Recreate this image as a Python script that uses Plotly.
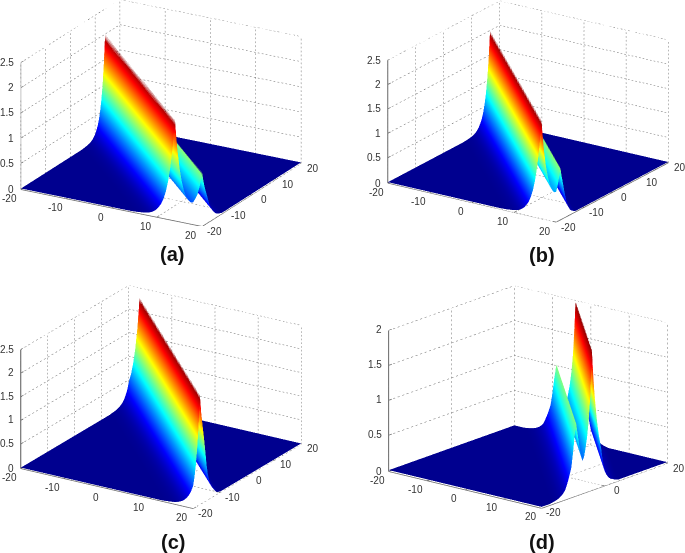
import math
import plotly.graph_objects as go

W, H = 685, 553
AXIS_X = [-20, -10, 0, 10, 20]
AXIS_Y = [-20, -10, 0, 10, 20]
AXIS_Y_D = [-20, 0, 20]
TICKS_Z = [0, 0.5, 1, 1.5, 2, 2.5]
TICKS_Z_D = [0, 0.5, 1, 1.5, 2]

# Ridge cross sections: height against x+y, in steps of 0.5
START_A = -15.0
PROFILE_A = [.004,.006,.01,.014,.02,.026,.035,.05,.07,.10,.14,.2,.27,.38,.53,.74,1.03,1.43,2.0,
             1.45,1.07,.8,.62,.5,.44,.41,.42,.5,.6,.78,1.05,.88,.74,.63,.53,.42,.32,.25,.19,.14,.1,.07,.05,.03,.02,.01,0]
START_B = -12.5
PROFILE_B = [.004,.006,.01,.014,.02,.026,.035,.05,.07,.1,.14,.2,.27,.38,.53,.74,1.03,1.43,2.0,
             1.48,1.12,.88,.72,.62,.58,.6,.7,.85,1.05,.85,.68,.5,.35,.22,.14,.08,.05,.03,.01,0]
START_C = -7.0
PROFILE_C = [0,.006,.01,.013,.018,.025,.035,.048,.066,.09,.125,.175,.24,.33,.46,.63,.87,1.2,1.66,2.3,
             1.9,1.62,1.35,1.05,.72,.5,.36,.26,.19,.14,.09,.05,.025,.012,0]
START_D = 2.5
PROFILE_D = [0,.004,.008,.012,.018,.025,.035,.05,.065,.09,.12,.18,.25,.33,.42,.62,.84,1.02,
             .85,.68,.53,.45,.5,.62,.78,1.0,1.35,2.0,
             1.55,1.25,1.0,.8,.65,.52,.33,.2,.14,.1,.07,.05,.04,.025,.015,.008,0]

JET = [[0, '#00008f'], [.125, '#0000ff'], [.375, '#00ffff'], [.625, '#ffff00'], [.875, '#ff0000'], [1, '#800000']]
GRID = '#6e6e6e'
INK = '#333333'
FLOOR = -0.02
DOTS = 46

PANELS = [
    dict(name='scene', label='(a)', lab=(172, 254), start=START_A, prof=PROFILE_A, yt=AXIS_Y, zt=TICKS_Z,
         box=(0, 322, 0, 226), az=29.5, sinel=.3606, ly=201., ax=1.036, az_ratio=.677, zcol='#c4c4c4'),
    dict(name='scene2', label='(b)', lab=(542, 255), start=START_B, prof=PROFILE_B, yt=AXIS_Y, zt=TICKS_Z,
         box=(371, 685, 0, 223), az=33.5, sinel=.35, ly=203., ax=.995, az_ratio=.647, zcol='#666666'),
    dict(name='scene3', label='(c)', lab=(173, 542), start=START_C, prof=PROFILE_C, yt=AXIS_Y, zt=TICKS_Z,
         box=(0, 322, 281.5, 511.5), az=32., sinel=.371, ly=204., ax=.997, az_ratio=.628, zcol='#555555'),
    dict(name='scene4', label='(d)', lab=(542, 542), start=START_D, prof=PROFILE_D, yt=AXIS_Y_D, zt=TICKS_Z_D,
         box=(371, 685, 281.5, 511.5), az=39.4, sinel=.293, ly=198., ax=1.0, az_ratio=.745, zcol='#666666'),
]

fig = go.Figure()
grid_axis = [-20 + i * 0.5 for i in range(81)]


def lines(segs, scene, color, width):
    xs, ys, zs = [], [], []
    for (a, b) in segs:
        xs += [a[0], b[0], None]
        ys += [a[1], b[1], None]
        zs += [a[2], b[2], None]
    fig.add_trace(go.Scatter3d(x=xs, y=ys, z=zs, mode='lines', scene=scene, showlegend=False,
                               hoverinfo='skip', line=dict(color=color, width=width)))


def dotted(a, b, n):
    out = []
    for i in range(n):
        f0, f1 = i / n, (i + 0.45) / n
        out.append((tuple(a[k] + (b[k] - a[k]) * f0 for k in range(3)),
                    tuple(a[k] + (b[k] - a[k]) * f1 for k in range(3))))
    return out


annotations = []
for p in PANELS:
    sc = p['name']
    table = {p['start'] + i * 0.5: v for i, v in enumerate(p['prof'])}
    z = [[table.get(x + y, 0.0) for x in grid_axis] for y in grid_axis]
    top = max(p['prof'])
    fig.add_trace(go.Surface(x=grid_axis, y=grid_axis, z=z, scene=sc, colorscale=JET, cmin=0, cmax=top,
                             showscale=False, hoverinfo='skip',
                             lighting=dict(ambient=1, diffuse=0, specular=0, roughness=1, fresnel=0),
                             contours=dict(x=dict(highlight=False), y=dict(highlight=False), z=dict(highlight=False))))
    zt, yt = p['zt'], p['yt']
    zmax = zt[-1]
    g = []
    for v in AXIS_X:
        g += dotted((v, 20, FLOOR), (v, 20, zmax), 32)
        g += dotted((v, -20, FLOOR), (v, 20, FLOOR), 28)
    for v in yt:
        g += dotted((-20, v, FLOOR), (-20, v, zmax), 32)
        g += dotted((-20, v, FLOOR), (20, v, FLOOR), DOTS)
    for v in zt:
        lev = v if v else FLOOR
        g += dotted((-20, -20, lev), (-20, 20, lev), 28)
        g += dotted((-20, 20, lev), (20, 20, lev), DOTS)
    lines(g, sc, GRID, 1)
    t = [((-20, -20, FLOOR), (20, -20, FLOOR)), ((20, -20, FLOOR), (20, 20, FLOOR))]
    t += [((v, -20, FLOOR), (v, -19, FLOOR)) for v in AXIS_X]
    t += [((20, v, FLOOR), (19, v, FLOOR)) for v in yt]
    t += [((-20, -20, v if v else FLOOR), (-20, -19, v if v else FLOOR)) for v in zt]
    lines(t, sc, '#666666', 1.5)
    lines([((-20, -20, FLOOR), (-20, -20, zmax))], sc, p['zcol'], 2)

    A = math.radians(p['az'])
    E = math.asin(p['sinel'])
    x0, x1, y0, y1 = p['box']
    r = 2.0
    unit = p['ly'] / ((y1 - y0) / 2)
    eye = dict(x=r * math.sin(A) * math.cos(E), y=-r * math.cos(A) * math.cos(E), z=r * math.sin(E))
    axis_off = dict(visible=False, showgrid=False, showline=False, showticklabels=False,
                    showbackground=False, showspikes=False, title='', zeroline=False)
    font = dict(family='Liberation Sans, Arial', size=10, color=INK)
    ann = []
    for v in AXIS_X:
        ann.append(dict(x=v, y=-20, z=FLOOR, text=str(v), showarrow=False, xshift=-11, yshift=-9, font=font))
    for v in yt:
        ann.append(dict(x=20, y=v, z=FLOOR, text=str(v), showarrow=False, xshift=12, yshift=-5, font=font))
    for v in zt:
        ann.append(dict(x=-20, y=-20, z=v if v else FLOOR, text=str(v), showarrow=False, xanchor='right',
                        xshift=-5, font=font))
    fig.layout[sc] = dict(
        domain=dict(x=[x0 / W, x1 / W], y=[1 - y1 / H, 1 - y0 / H]),
        xaxis=dict(range=[-20, 20], **axis_off),
        yaxis=dict(range=[-20, 20], **axis_off),
        zaxis=dict(range=[FLOOR, zmax], **axis_off),
        aspectmode='manual',
        aspectratio=dict(x=p['ax'] * unit, y=unit, z=p['az_ratio'] * unit),
        camera=dict(eye=eye, up=dict(x=0, y=0, z=1), center=dict(x=0, y=0, z=0),
                    projection=dict(type='orthographic')),
        annotations=ann,
    )
    annotations.append(dict(x=p['lab'][0] / W, y=1 - p['lab'][1] / H, xref='paper', yref='paper', text='<b>%s</b>' % p['label'],
                            xanchor='center', yanchor='middle',
                            showarrow=False, font=dict(family='Liberation Sans, Arial', size=20, color='#111111')))

fig.update_layout(width=W, height=H, margin=dict(l=0, r=0, t=0, b=0), paper_bgcolor='white',
                  annotations=annotations, showlegend=False)
fig.write_html("out.html", config=dict(displayModeBar=False),
               post_script="document.body.style.margin='0';window.dispatchEvent(new Event('resize'));")
